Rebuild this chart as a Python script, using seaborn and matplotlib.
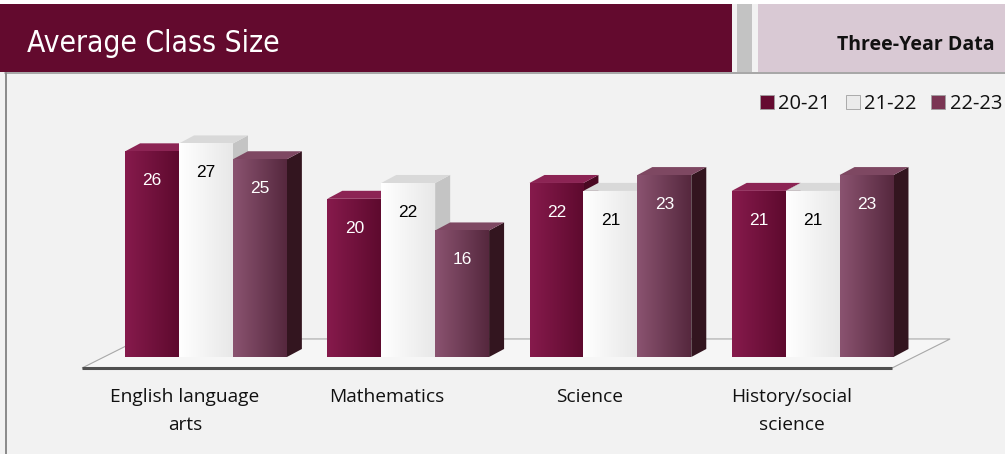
import numpy as np
import pandas as pd
import matplotlib
matplotlib.use("Agg")
import matplotlib.pyplot as plt
import seaborn as sns
from matplotlib.patches import Rectangle, Polygon, Patch
from matplotlib.colors import LinearSegmentedColormap

# ---- data ----
categories = ["English language\narts", "Mathematics", "Science", "History/social\nscience"]
years = ["20-21", "21-22", "22-23"]
vals_2021 = [26, 20, 22, 21]
vals_2122 = [27, 22, 21, 21]
vals_2223 = [25, 16, 23, 23]
title = "Average Class Size"
subtitle = "Three-Year Data"

rows = []
for yr, vals in zip(years, [vals_2021, vals_2122, vals_2223]):
    for c, v in zip(categories, vals):
        rows.append({"category": c, "year": yr, "value": v})
df = pd.DataFrame(rows)

# ---- style ----
W, H = 1005, 454
sns.set_theme(style="white")
plt.rcParams["font.family"] = ["Open Sans", "DejaVu Sans"]

legend_cols = {"20-21": "#650A30", "21-22": "#EBEBEB", "22-23": "#7A3553"}
front_grad = {"20-21": ("#861A4C", "#5E0A2E"),
              "21-22": ("#FFFFFF", "#E8E8E8"),
              "22-23": ("#8A5370", "#56283E")}
side_col = {"20-21": "#4A0822", "21-22": "#C4C4C4", "22-23": "#33151F"}
top_col = {"20-21": "#8C2454", "21-22": "#D9D9D9", "22-23": "#7E4862"}
label_col = {"20-21": "white", "21-22": "black", "22-23": "white"}

fig = plt.figure(figsize=(W / 100, H / 100), dpi=100)
fig.patch.set_facecolor("#F2F2F2")
ax = fig.add_axes([0, 0, 1, 1])
ax.set_facecolor("none")

sns.barplot(data=df, x="category", y="value", hue="year", palette=legend_cols,
            width=0.8, ax=ax, legend=False, saturation=1, zorder=5)

# pixel mapping: x_px = 206 + 202.2*x ; y_px = 357 - 7.91*v
sx, x0 = 202.2, 206.0
sy, y0 = 7.91, 357.0
ax.set_xlim(-x0 / sx, (W - x0) / sx)
ax.set_ylim((y0 - H) / sy, y0 / sy)
ax.axis("off")

n = len(categories)
# floor
dpx = 15 / sx
dpy = 8 / sy
fl = -0.613
fr = n - 1 + 0.393
ff = -1.39
fb = 2.28
shift = 0.287
floor = Polygon([(fl, ff), (fr, ff), (fr + shift, fb), (fl + shift, fb)], closed=True,
                facecolor="#F6F6F6", edgecolor="#A8A8A8", lw=0.8, zorder=1)
ax.add_patch(floor)
ax.plot([fl, fr], [ff, ff], color="#505050", lw=2.2, zorder=2, solid_capstyle="butt")

# 3D faces derived from the seaborn bars
bars = [b for b in ax.patches if isinstance(b, Rectangle)]
hue_order = []
for yr in years:
    hue_order += [yr] * n
yr_of = {id(b): yr for b, yr in zip(bars, hue_order)}
info = sorted([(b.get_x(), b) for b in bars], key=lambda t: t[0])
z = 10
for _, b in info:
    yr = yr_of[id(b)]
    x, w, h = b.get_x(), b.get_width(), b.get_height()
    side = Polygon([(x + w, 0), (x + w + dpx, dpy), (x + w + dpx, h + dpy), (x + w, h)],
                   closed=True, facecolor=side_col[yr], edgecolor="none", zorder=z)
    top = Polygon([(x, h), (x + dpx, h + dpy), (x + w + dpx, h + dpy), (x + w, h)],
                  closed=True, facecolor=top_col[yr], edgecolor="none", zorder=z + 1)
    ax.add_patch(side)
    ax.add_patch(top)
    b.set_zorder(z + 2)
    b.set_edgecolor("none")
    cmap = LinearSegmentedColormap.from_list("g", list(front_grad[yr]))
    grad = np.linspace(0, 1, 64).reshape(1, -1)
    im = ax.imshow(grad, cmap=cmap, extent=[x, x + w, 0, h], aspect="auto",
                   zorder=z + 3, interpolation="bilinear")
    im.set_clip_path(b)
    ax.text(x + w / 2, h - 3.7, f"{h:g}", ha="center", va="center", fontsize=12.5,
            color=label_col[yr], family=["Liberation Sans", "DejaVu Sans"], zorder=z + 4)
    z += 5

ax.set_xlim(-x0 / sx, (W - x0) / sx)
ax.set_ylim((y0 - H) / sy, y0 / sy)

# category labels
for i, c in enumerate(categories):
    ax.text(i - 21 / sx, (y0 - 388) / sy, c, ha="center", va="top", fontsize=13.8,
            color="#111111", linespacing=1.75, zorder=50)

# ---- header and frame (figure pixel coords) ----
def fx(px):
    return px / W

def fy(py):
    return 1 - py / H

fig.add_artist(Rectangle((0, fy(4)), 1, 4 / H, transform=fig.transFigure,
                         facecolor="white", edgecolor="none", zorder=0))
fig.add_artist(Rectangle((0, fy(71.5)), fx(732), 67.5 / H, transform=fig.transFigure,
                         facecolor="#630A2E", edgecolor="none", zorder=1))
fig.add_artist(Rectangle((fx(737), fy(71.5)), fx(15), 67.5 / H, transform=fig.transFigure,
                         facecolor="#C3C3C3", edgecolor="none", zorder=1))
fig.add_artist(Rectangle((fx(758), fy(71.5)), fx(W - 758), 67.5 / H, transform=fig.transFigure,
                         facecolor="#D9C9D4", edgecolor="none", zorder=1))
fig.add_artist(plt.Line2D([fx(5), 1], [fy(72.5), fy(72.5)], transform=fig.transFigure,
                          color="#9A9A9A", lw=1.2, zorder=2))
fig.add_artist(plt.Line2D([fx(6), fx(6)], [fy(72.5), 0], transform=fig.transFigure,
                          color="#8A8A8A", lw=1.4, zorder=2))

fig.text(fx(27), fy(43), title, ha="left", va="center", fontsize=21.5, color="white",
         family=["DejaVu Sans"], fontstretch="condensed", fontweight="light", zorder=5)
fig.text(fx(995), fy(45), subtitle, ha="right", va="center", fontsize=14,
         fontweight="bold", color="#111111", zorder=5)

# legend
handles = [Patch(facecolor=legend_cols[y], edgecolor="#A0A0A0", lw=0.6, label=y) for y in years]
leg = fig.legend(handles=handles, loc="upper right", bbox_to_anchor=(fx(1002), fy(94)),
                 ncol=3, frameon=False, fontsize=14.5, handlelength=0.7, handleheight=0.7,
                 handletextpad=0.2, columnspacing=0.75, borderpad=0, borderaxespad=0)
for t in leg.get_texts():
    t.set_color("#111111")

fig.savefig("out.png", dpi=100, facecolor=fig.get_facecolor())
